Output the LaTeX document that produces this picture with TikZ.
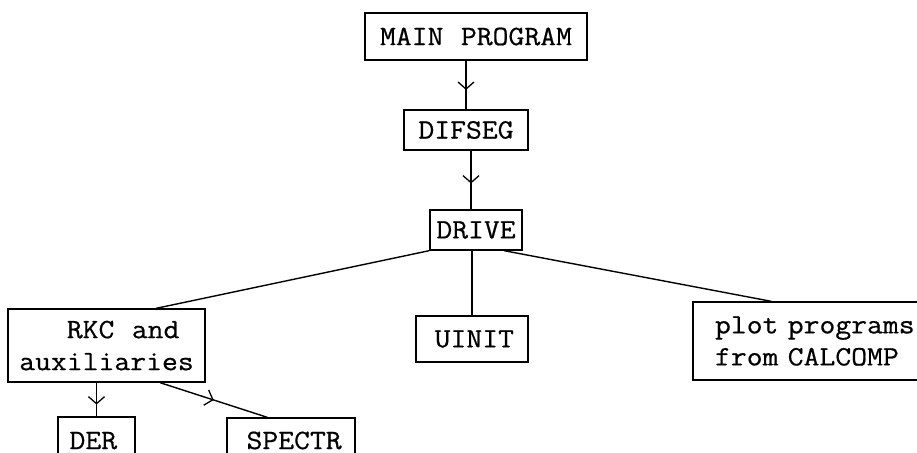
\documentclass[tikz,border=0pt]{standalone}
\usepackage{fontspec}
\newfontfamily\tw{Latin Modern Mono}[FakeStretch=1.1,FakeBold=0.6,WordSpace=1.1]
\usetikzlibrary{arrows.meta,decorations.markings,calc}
\tikzset{
  txt/.style={font=\tw\fontsize{28}{32}\selectfont},
  box/.style={draw,line width=1.3pt,inner sep=0pt,txt},
  conn/.style={line width=1.4pt},
  midarrow/.style={postaction={decorate},decoration={markings,
     mark=at position #1 with {\arrow{Straight Barb[length=7pt,width=16pt,line width=1.3pt]}}}}
}
\begin{document}
\begin{tikzpicture}[x=1pt,y=-1pt]
\useasboundingbox[fill=white] (0,0) rectangle (917,452);
\node[box,minimum width=222,minimum height=47] (main) at (476,36.5) {MAIN PROGRAM};
\node[box,minimum width=124,minimum height=40] (difseg) at (466,130) {DIFSEG};
\node[box,minimum width=92,minimum height=40] (drive) at (476,230) {DRIVE};
\node[box,minimum width=112,minimum height=46] (uinit) at (472,339) {\,UINIT};
\node[box,minimum width=197,minimum height=73,align=left] (rkc) at (106.5,345.5) {\phantom{xxx}RKC and\\auxiliaries};
\node[box,minimum width=232,minimum height=78,align=left,text width=200] (plot) at (809,341) {\mbox{\hspace{6pt}plot programs}\\\mbox{\hspace{6pt}from CALCOMP}};
\node[box,minimum width=77,minimum height=53] (der) at (96.5,443.5) {};
\node[box,minimum width=128,minimum height=52] (spectr) at (291,444) {};
\node[txt,anchor=base west] (dert) at (66,449) {DER};
\node[txt,anchor=base west] (spectrt) at (243,449) {SPECTR};

\draw[conn,midarrow=0.6] (main.south -| difseg.north) -- (difseg.north);
\draw[conn,midarrow=0.56] ($(difseg.south)+(5,0)$) coordinate (ds) -- (ds |- drive.north);
\draw[conn] (drive.south -| uinit.north) -- (uinit.north);
\draw[conn] (drive.south west) -- ($(rkc.north west)!0.75!(rkc.north east)$);
\draw[conn] ($(drive.south west)!0.8!(drive.south east)$) -- ($(plot.north west)+(79,0)$);
\draw[conn,midarrow=0.65] (rkc.south -| der.north) -- (der.north);
\draw[conn,midarrow=0.5] ($(rkc.south west)!0.77!(rkc.south east)$) -- ($(spectr.north west)+(41,0)$);
\end{tikzpicture}
\end{document}
